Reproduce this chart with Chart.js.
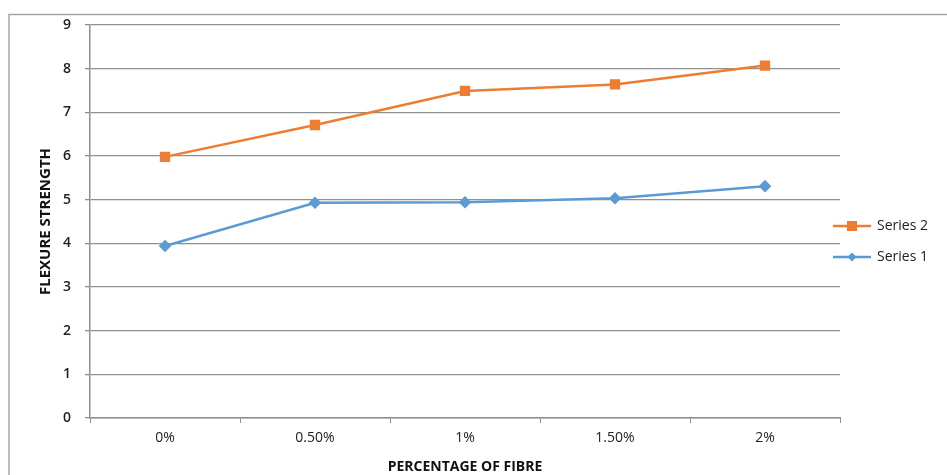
<!DOCTYPE html>
<html>
<head>
<meta charset="utf-8">
<script src="https://cdn.jsdelivr.net/npm/chart.js@4.4.1/dist/chart.umd.min.js"></script>
<style>
  body { margin: 0; background: #fff; }
  canvas { display: block; }
</style>
</head>
<body>
<canvas id="chartFlexure" width="947" height="475"></canvas>
<script>
// percentage of fibre on the x axis
const fibreLabels = ["0%", "0.50%", "1%", "1.50%", "2%"]
// flexure strength values for each series
const series1 = [3.94, 4.93, 4.94, 5.03, 5.31]
const series2 = [5.98, 6.71, 7.49, 7.64, 8.07]
const yTicks = [0, 1, 2, 3, 4, 5, 6, 7, 8, 9]

const fontFamily = "'Open Sans', 'DejaVu Sans', sans-serif"
const gridColor = "#8f8f8f"

// frame round the chart + legend on the right (line with marker, like office charts)
const framePlugin = {
    id: "framePlugin",
    afterDraw(chart) {
        const ctx = chart.ctx
        ctx.save()
        ctx.strokeStyle = "#a6a6a6"
        ctx.lineWidth = 1.5
        ctx.beginPath()
        ctx.moveTo(9, 475)
        ctx.lineTo(9, 14.5)
        ctx.lineTo(947, 14.5)
        ctx.stroke()

        const items = [
            { ds: chart.data.datasets[1], y: 226 },
            { ds: chart.data.datasets[0], y: 257 },
        ]
        items.forEach((item) => {
            const ds = item.ds
            ctx.strokeStyle = ds.borderColor
            ctx.lineWidth = 2.5
            ctx.beginPath()
            ctx.moveTo(833, item.y)
            ctx.lineTo(871, item.y)
            ctx.stroke()
            ctx.fillStyle = ds.pointBackgroundColor
            if (ds.pointStyle === "rect") {
                ctx.fillRect(852 - 5, item.y - 5, 10, 10)
            } else {
                ctx.beginPath()
                ctx.moveTo(852, item.y - 4.5)
                ctx.lineTo(856.5, item.y)
                ctx.lineTo(852, item.y + 4.5)
                ctx.lineTo(847.5, item.y)
                ctx.closePath()
                ctx.fill()
            }
            ctx.fillStyle = "#222"
            ctx.font = "14px " + fontFamily
            ctx.textBaseline = "middle"
            ctx.textAlign = "left"
            ctx.fillText(ds.label, 877, item.y)
        })
        ctx.restore()
    }
}

const dataLines = {
    labels: fibreLabels,
    datasets: [
    {
        label: "Series 1",
        data: series1,
        borderColor: "#5b9bd5",
        pointBackgroundColor: "#5b9bd5",
        pointBorderColor: "#5b9bd5",
        pointStyle: "rectRot",
        pointRadius: 4.5,
        borderWidth: 2.5,
        tension: 0,
    },
    {
        label: "Series 2",
        data: series2,
        borderColor: "#ed7d31",
        pointBackgroundColor: "#ed7d31",
        pointBorderColor: "#ed7d31",
        pointStyle: "rect",
        pointRadius: 5.5,
        borderWidth: 2.5,
        tension: 0,
    },
    ],
}

const configLines = {
    type: "line",
    data: dataLines,
    plugins: [framePlugin],
    options: {
        responsive: false,
        animation: false,
        layout: { padding: { top: 25, right: 107, left: 0, bottom: 0 } },
        plugins: {
            legend: { display: false },
            tooltip: { enabled: false },
        },
        scales: {
            x: {
                offset: true,
                grid: {
                    offset: true,
                    drawOnChartArea: false,
                    tickLength: 5,
                    color: gridColor,
                },
                border: { color: gridColor, width: 1.5 },
                ticks: {
                    padding: 7,
                    color: "#222",
                    font: { family: fontFamily, size: 14 },
                },
                title: {
                    display: true,
                    text: "PERCENTAGE OF FIBRE",
                    color: "#111",
                    font: { family: fontFamily, size: 14, weight: "bold" },
                    padding: { top: 0, bottom: 0 },
                },
                afterFit: (scale) => { scale.height = 57 },
            },
            y: {
                min: 0,
                max: 9,
                afterBuildTicks: (scale) => { scale.ticks = yTicks.map((v) => ({ value: v })) },
                grid: {
                    color: gridColor,
                    lineWidth: 1.3,
                    tickLength: 5,
                },
                border: { color: gridColor, width: 1.5 },
                ticks: {
                    padding: 14,
                    color: "#222",
                    font: { family: fontFamily, size: 14, weight: "600" },
                },
                title: {
                    display: true,
                    text: "FLEXURE STRENGTH",
                    color: "#111",
                    font: { family: fontFamily, size: 15, weight: "bold" },
                    padding: { top: 37, bottom: 0 },
                },
                afterFit: (scale) => { scale.width = 90 },
            },
        },
    },
}

const chartLines = new Chart(document.getElementById("chartFlexure"), configLines)
</script>
</body>
</html>
